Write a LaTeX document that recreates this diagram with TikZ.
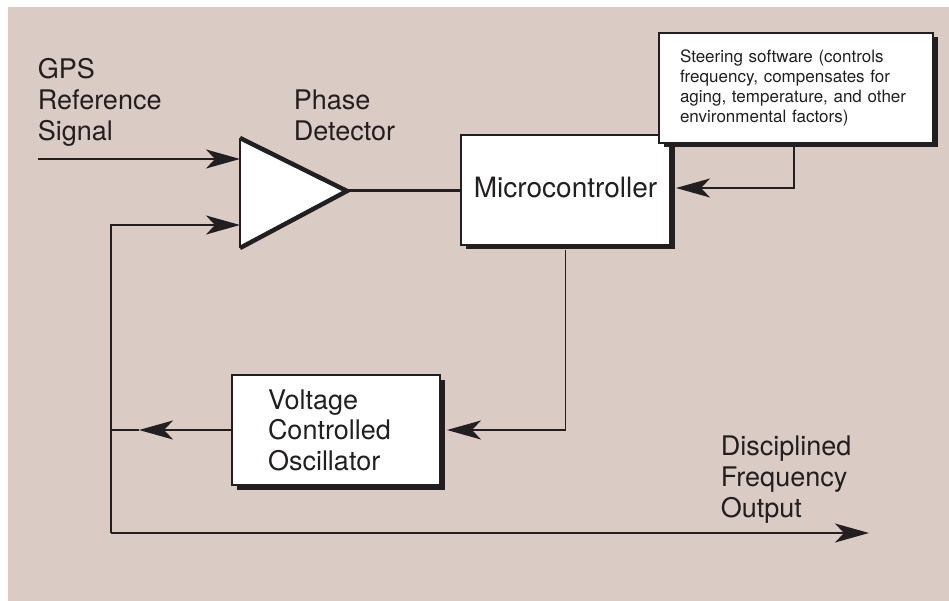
\documentclass[tikz,border=0pt]{standalone}
\usepackage{fontspec}
\setmainfont{TeX Gyre Heros}
\usetikzlibrary{arrows.meta,shadows}
\definecolor{bg}{RGB}{218,203,197}
\definecolor{ink}{RGB}{35,31,32}
\begin{document}
\begin{tikzpicture}[x=1pt,y=-1pt,
  color=ink, line width=1.8pt,
  lbl/.style={inner sep=0pt, anchor=north west, align=left, text=ink,
    font=\fontsize{27}{31}\selectfont},
  box/.style={draw=ink, fill=white, line width=2pt, inner sep=0pt,
    drop shadow={shadow xshift=4.5pt, shadow yshift=-4.5pt, opacity=1, fill=ink}},
  arr/.style={-{Stealth[length=34pt,width=19pt,inset=9pt]}},
  thickline/.style={line width=3pt}
]
\useasboundingbox (0,0) rectangle (949,601);
\fill[white] (0,0) rectangle (949,601);
\fill[bg] (8,7) rectangle (949,601);

% labels
\node[lbl] (gps) at (37,57) {GPS\\Reference\\Signal};
\node[lbl] (phase) at (293,88.5) {Phase\\Detector};
\node[lbl] (out) at (720,434.5) {Disciplined\\Frequency\\Output};

% phase detector triangle
\coordinate (tl) at (240,138);
\coordinate (bl) at (240,248);
\coordinate (ap) at (347,191);
\coordinate (in1) at (240,159);
\coordinate (in2) at (240,225);
\fill[white] (tl) -- (ap) -- (bl) -- cycle;
\draw[line width=1.6pt] (tl) -- (bl);
\draw[line width=4.5pt, line join=miter] (tl) -- (ap) -- (bl);

% boxes
\node[box, minimum width=209pt, minimum height=110pt, text depth=6pt,
  font=\fontsize{28}{32}\selectfont] (mc) at (565.5,190) {Microcontroller};
\node[box, minimum width=274pt, minimum height=110pt, text width=232pt, align=left,
  font=\fontsize{17}{19.7}\selectfont] (st) at (796,88)
  {Steering software (controls\\frequency, compensates for\\aging, temperature, and other\\environmental factors)};
\node[box, minimum width=208pt, minimum height=110pt, text width=136pt, align=left,
  font=\fontsize{27}{30.5}\selectfont] (vco) at (336,430)
  {Voltage\\Controlled\\Oscillator};

% coordinates for connectors
\coordinate (gin) at (38,159);
\coordinate (fbtop) at (111,225);
\coordinate (fbmid) at (111,430);
\coordinate (fbbot) at (111,533);
\coordinate (outend) at (869,533);
\coordinate (vcotip) at (139,430);

% connectors
\draw[arr] (gin) -- (in1);
\draw[arr] (fbbot) -- (fbtop) -- (in2);
\draw[arr] (fbbot) -- (outend);
\draw[arr] (vco.west) -- (vcotip);
\draw (vcotip) -- (fbmid);
\draw[thickline] (ap) -- (ap -| mc.west);
\draw[arr] ([xshift=-2pt]st.south) |- ([xshift=5pt,yshift=2pt]mc.east);
\draw[arr] ([yshift=-4pt]mc.south) |- ([xshift=6pt]vco.east);
\end{tikzpicture}
\end{document}
